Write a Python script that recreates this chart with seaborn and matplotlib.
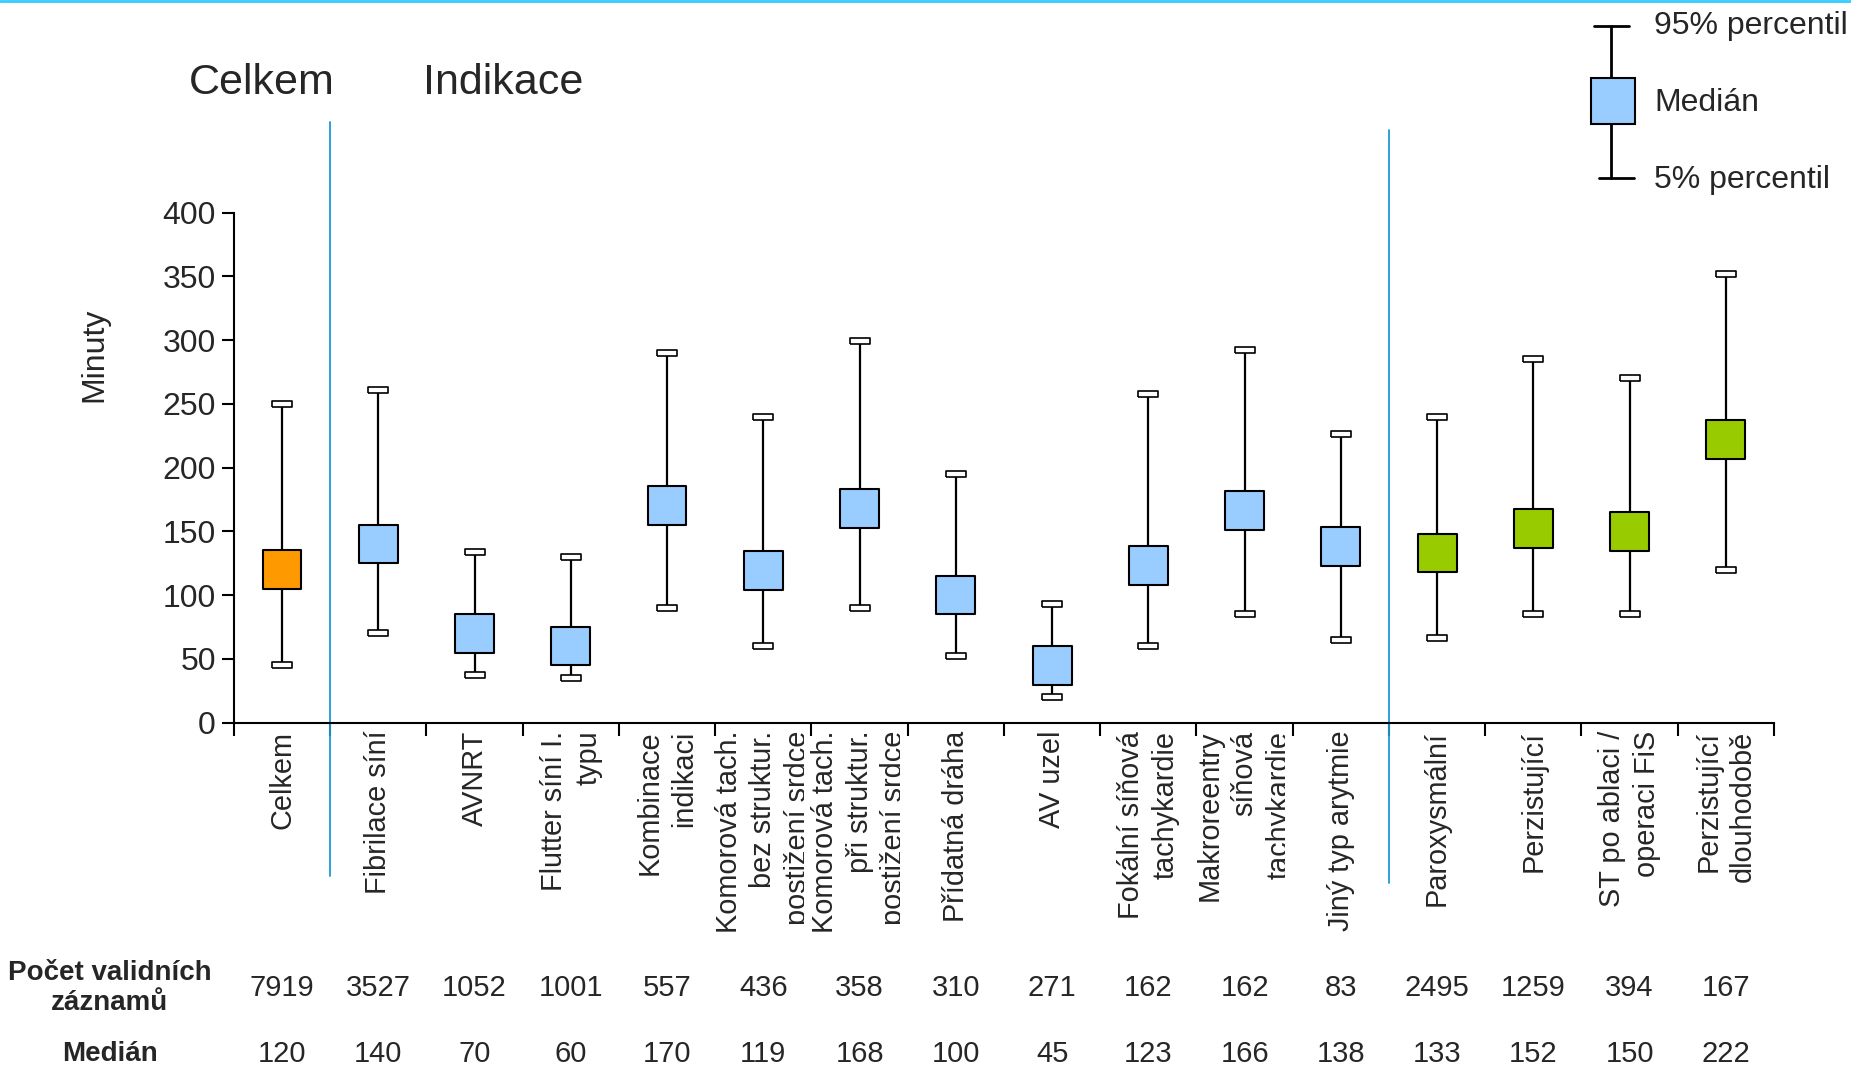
import numpy as np
import pandas as pd
import matplotlib.pyplot as plt
import seaborn as sns
from matplotlib.transforms import blended_transform_factory, Bbox, TransformedBbox
from matplotlib.lines import Line2D
from matplotlib.patches import Rectangle

# Data
categories = ['Celkem', 'Fibrilace síní', 'AVNRT', 'Flutter síní I.\ntypu',
              'Kombinace\nindikaci', 'Komorová tach.\nbez struktur.\npostižení srdce',
              'Komorová tach.\npři struktur.\npostižení srdce', 'Přídatná dráha', 'AV uzel',
              'Fokální síňová\ntachykardie', 'Makroreentry\nsíňová\ntachykardie',
              'Jiný typ arytmie', 'Paroxysmální', 'Perzistující',
              'ST po ablaci /\noperaci FiS', 'Perzistující\ndlouhodobě']
groups = ['Celkem'] + ['Indikace'] * 11 + ['FiS'] * 4
medians = [120, 140, 70, 60, 170, 119, 168, 100, 45, 123, 166, 138, 133, 152, 150, 222]
p05 = [45, 70, 37, 35, 90, 60, 90, 52, 20, 60, 85, 65, 66, 85, 85, 120]
p95 = [250, 261, 134, 130, 290, 240, 299, 195, 93, 258, 292, 226, 240, 285, 270, 352]
counts = [7919, 3527, 1052, 1001, 557, 436, 358, 310, 271, 162, 162, 83, 2495, 1259, 394, 167]

df = pd.DataFrame({'pos': np.arange(len(categories)), 'group': groups,
                   'median': medians, 'p05': p05, 'p95': p95})
palette = {'Celkem': '#FF9900', 'Indikace': '#99CCFF', 'FiS': '#99CC00'}

sns.set_style('ticks')
plt.rcParams['font.family'] = ['Liberation Sans', 'DejaVu Sans']

fig = plt.figure(figsize=(18.51, 10.69), dpi=100)
ax = fig.add_axes([0.1264, 0.3241, 0.832, 0.4771])

# whiskers, caps and median squares
ax.vlines(df['pos'], df['p05'], df['p95'], color='black', lw=1.6, zorder=2)
cap = [(-1, -0.3), (1, -0.3), (1, 0.3), (-1, 0.3), (-1, -0.3)]
for col in ['p05', 'p95']:
    sns.scatterplot(data=df, x='pos', y=col, marker=cap, s=190, color='white',
                    edgecolor='black', linewidth=1.2, zorder=3, ax=ax)
sns.scatterplot(data=df, x='pos', y='median', hue='group', palette=palette, marker='s',
                s=780, edgecolor='black', linewidth=1.5, legend=False, zorder=4, ax=ax)

ax.set_xlim(-0.5, len(categories) - 0.5)
ax.set_ylim(0, 400)
ax.set_xlabel('')
ax.set_ylabel('')
ax.set_yticks(range(0, 401, 50))
ax.set_xticks(df['pos'])
ax.set_xticklabels(categories, rotation=90, va='top', ha='center',
                   multialignment='right', fontsize=20.8, linespacing=1.3)
ax.set_xticks(np.arange(-0.5, len(categories), 1), minor=True)
ax.tick_params(axis='x', which='major', length=0, pad=6)
ax.tick_params(axis='x', which='minor', length=9, width=1.5, color='black')
ax.tick_params(axis='y', length=9, width=1.5, color='black', labelsize=23, pad=4)
for s in ['top', 'right']:
    ax.spines[s].set_visible(False)
for s in ['left', 'bottom']:
    ax.spines[s].set_linewidth(1.5)
    ax.spines[s].set_color('black')

# clip the wrapped labels to their category cell
clip_trans = blended_transform_factory(ax.transData, fig.transFigure)
for i, lab in enumerate(ax.get_xticklabels()):
    bb = TransformedBbox(Bbox([[i - 0.52, 0.125], [i + 0.42, 0.33]]), clip_trans)
    lab.set_clip_box(bb)
    lab.set_clip_on(True)

# separator lines
sep_trans = blended_transform_factory(ax.transData, ax.transAxes)
ax.plot([0.5, 0.5], [1.178, -0.301], transform=sep_trans, color='#1B9AD6', lw=1.3, clip_on=False)
ax.plot([11.5, 11.5], [1.162, -0.315], transform=sep_trans, color='#1B9AD6', lw=1.3, clip_on=False)

# section titles and y label
fig.text(0.1415, 0.922, 'Celkem', ha='center', va='center', fontsize=31)
fig.text(0.272, 0.922, 'Indikace', ha='center', va='center', fontsize=31)
fig.text(0.051, 0.668, 'Minuty', ha='center', va='center', rotation=90, fontsize=23)

# table below the chart
for i, (c, m) in enumerate(zip(counts, medians)):
    ax.text(i, 0.0758, str(c), transform=clip_trans, ha='center', va='center', fontsize=21)
    ax.text(i, 0.014, str(m), transform=clip_trans, ha='center', va='center', fontsize=21)
fig.text(0.0593, 0.0758, 'Počet validních\nzáznamů', ha='center', va='center',
         fontsize=20, fontweight='bold', linespacing=1.2)
fig.text(0.0593, 0.014, 'Medián', ha='center', va='center', fontsize=20, fontweight='bold')

# legend drawn by hand
fig.add_artist(Line2D([0.8706, 0.8706], [0.9757, 0.8335], color='black', lw=2, zorder=1))
fig.add_artist(Line2D([0.861, 0.880], [0.9757, 0.9757], color='black', lw=2))
fig.add_artist(Line2D([0.8636, 0.8827], [0.8335, 0.8335], color='black', lw=2))
fig.add_artist(Rectangle((0.8597, 0.884), 0.0236, 0.043, transform=fig.transFigure,
                         facecolor='#99CCFF', edgecolor='black', lw=1.5, zorder=2))
fig.text(0.8936, 0.9757, '95% percentil', ha='left', va='center', fontsize=23)
fig.text(0.8936, 0.904, 'Medián', ha='left', va='center', fontsize=23)
fig.text(0.8936, 0.832, '5% percentil', ha='left', va='center', fontsize=23)

# thin cyan border at the top
fig.add_artist(Line2D([0, 1], [0.999, 0.999], color='#33CCFF', lw=2))

fig.savefig('out.png', dpi=100)
